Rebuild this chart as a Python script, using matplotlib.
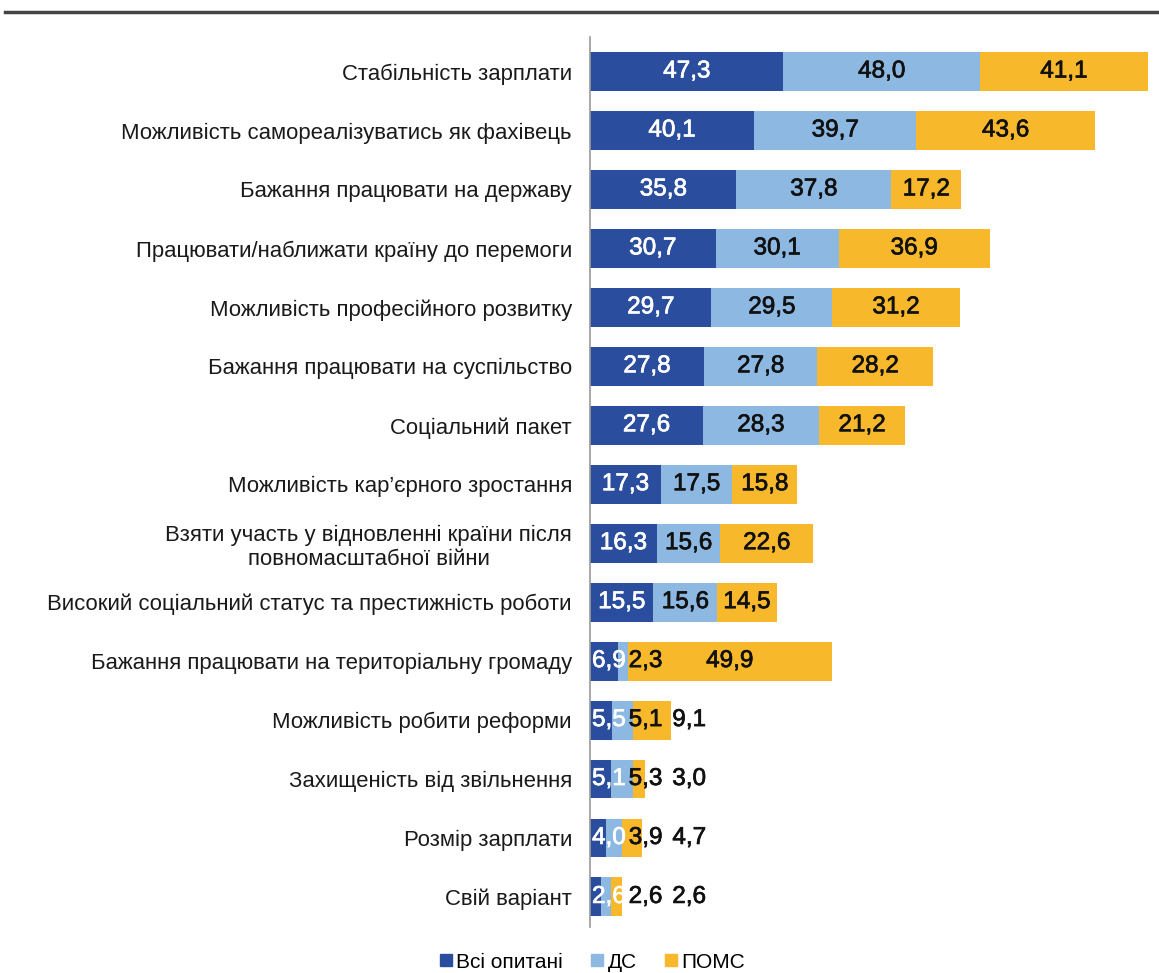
import matplotlib
matplotlib.use("Agg")
import matplotlib.pyplot as plt
import matplotlib.patheffects as pe
from matplotlib.lines import Line2D
import numpy as np

plt.rcParams['font.family'] = ['Liberation Sans', 'DejaVu Sans']

categories = [
    "Стабільність зарплати",
    "Можливість самореалізуватись як фахівець",
    "Бажання працювати на державу",
    "Працювати/наближати країну до перемоги",
    "Можливість професійного розвитку",
    "Бажання працювати на суспільство",
    "Соціальний пакет",
    "Можливість кар’єрного зростання",
    "Взяти участь у відновленні країни після\nповномасштабної війни",
    "Високий соціальний статус та престижність роботи",
    "Бажання працювати на територіальну громаду",
    "Можливість робити реформи",
    "Захищеність від звільнення",
    "Розмір зарплати",
    "Свій варіант",
]
all_resp = [47.3, 40.1, 35.8, 30.7, 29.7, 27.8, 27.6, 17.3, 16.3, 15.5, 6.9, 5.5, 5.1, 4.0, 2.6]
ds = [48.0, 39.7, 37.8, 30.1, 29.5, 27.8, 28.3, 17.5, 15.6, 15.6, 2.3, 5.1, 5.3, 3.9, 2.6]
poms = [41.1, 43.6, 17.2, 36.9, 31.2, 28.2, 21.2, 15.8, 22.6, 14.5, 49.9, 9.1, 3.0, 4.7, 2.6]
series_names = ["Всі опитані", "ДС", "ПОМС"]

colors = ["#2a4d9d", "#8cb8e2", "#f7b82b"]
label_colors = ["white", "#111111", "#111111"]

W, H = 1159, 973
fig = plt.figure(figsize=(W / 100, H / 100), dpi=100)
ax = fig.add_axes([590 / W, 1 - 927 / H, 560 / W, 890 / H])

y = np.arange(len(categories))
series = [all_resp, ds, poms]
left = np.zeros(len(categories))
texts = []
for vals, col, tcol in zip(series, colors, label_colors):
    vals = np.array(vals)
    ax.barh(y, vals, left=left, height=0.66, color=col, edgecolor='none')
    row = []
    for yi, (l, v) in enumerate(zip(left, vals)):
        t = ax.text(l + v / 2, yi, f"{v:.1f}".replace('.', ','), ha='center', va='center',
                    fontsize=17.5, color=tcol,
                    path_effects=[pe.withStroke(linewidth=0.5, foreground=tcol)])
        row.append(t)
    texts.append(row)
    left = left + vals

ax.set_xlim(0, 560 / 4.09)
ax.set_ylim(14.51, -0.585)
ax.set_xticks([])
ax.set_yticks(y)
ax.set_yticklabels(categories, fontsize=15.9, color='#1a1a1a', multialignment='center')
ax.tick_params(axis='y', length=0, pad=13)
for s in ['top', 'right', 'bottom']:
    ax.spines[s].set_visible(False)
ax.spines['left'].set_color('#9a9a9a')
ax.spines['left'].set_linewidth(1.2)

# push value labels right where narrow segments would make them overlap
fig.canvas.draw()
renderer = fig.canvas.get_renderer()
to_data = ax.transData.inverted()
x0_px = ax.transData.transform((0, 0))[0]
gaps = [0, 3, 10]
for yi in range(len(categories)):
    prev_right = x0_px + 2
    for si in range(3):
        t = texts[si][yi]
        bb = t.get_window_extent(renderer)
        w = bb.width
        cx = (bb.x0 + bb.x1) / 2
        lft = max(cx - w / 2, prev_right + gaps[si])
        new_cx = lft + w / 2
        ypx = ax.transData.transform((0, yi))[1]
        t.set_position((to_data.transform((new_cx, ypx))[0], yi))
        prev_right = lft + w

handles = [Line2D([], [], marker='s', linestyle='', markersize=8, color=c) for c in colors]
fig.legend(handles, series_names, loc='center', bbox_to_anchor=(592 / W, 1 - 962 / H),
           ncol=3, frameon=False, fontsize=15, handlelength=0.7, handletextpad=0.15,
           columnspacing=1.3)

fig.add_artist(Line2D([5 / W, 1], [1 - 12 / H, 1 - 12 / H], color='#444444', linewidth=2.5))

fig.savefig("out.png", dpi=100, facecolor='white')
